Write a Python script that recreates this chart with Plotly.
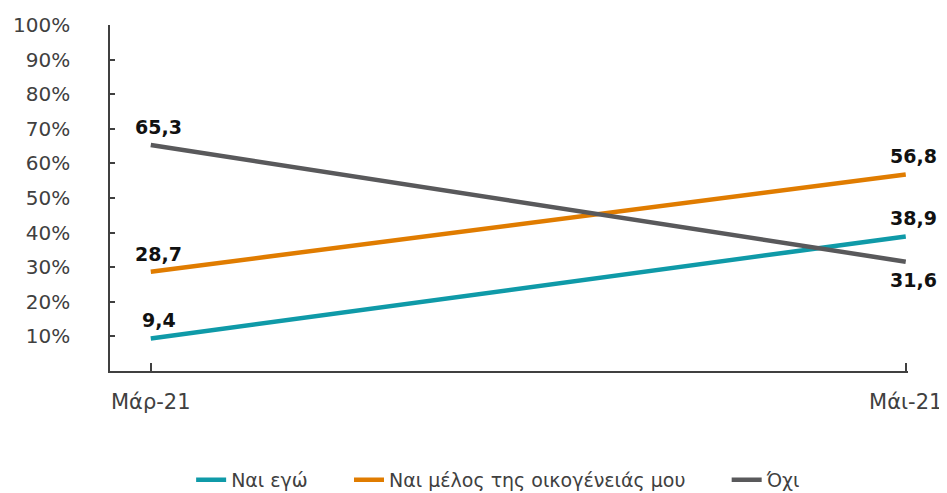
import plotly.graph_objects as go

months = ["Μάρ-21", "Μάι-21"]
series_names = ["Ναι εγώ", "Ναι μέλος της οικογένειάς μου", "Όχι"]
nai_ego = [9.4, 38.9]
nai_melos = [28.7, 56.8]
oxi = [65.3, 31.6]
y_ticks = list(range(10, 101, 10))
colors = ["#0f9aa8", "#e07c00", "#59595b"]
label_below = [[False, False], [False, False], [False, True]]

font_family = "'DejaVu Sans', 'Noto Sans', sans-serif"
x_idx = list(range(len(months)))
pad = "\u00a0" * 6  # a bit of air between legend entries

fig = go.Figure()
for i, (name, vals, col) in enumerate(zip(series_names, [nai_ego, nai_melos, oxi], colors)):
    fig.add_trace(go.Scatter(
        x=x_idx, y=vals, name=name + (pad if i < len(series_names) - 1 else ""),
        mode="lines", line=dict(color=col, width=4.5),
        hoverinfo="skip",
    ))

# value labels, nudged a little right of the point like the original
for vals, below in zip([nai_ego, nai_melos, oxi], label_below):
    for xi, v, b in zip(x_idx, vals, below):
        fig.add_annotation(
            x=xi, y=v, text=f"<b>{v:.1f}</b>".replace(".", ","),
            showarrow=False, xshift=8, yshift=-18 if b else 18,
            font=dict(family=font_family, size=19, color="#111111"),
        )

fig.update_layout(
    width=939, height=485,
    margin=dict(l=102, r=39, t=17, b=122),
    paper_bgcolor="white", plot_bgcolor="white",
    font=dict(family=font_family, size=19, color="#404040"),
    showlegend=True,
    legend=dict(orientation="h", x=0.487, xanchor="center",
                yref="container", y=0.027, yanchor="middle",
                font=dict(size=19, color="#404040")),
)
fig.update_xaxes(
    range=[-0.054, 1.003], tickvals=x_idx, ticktext=months,
    showline=True, linecolor="#404040", linewidth=1.5,
    ticks="inside", ticklen=8, tickcolor="#404040", tickwidth=1.5,
    showgrid=False, zeroline=False, ticklabelstandoff=11,
    tickfont=dict(size=21), automargin=False,
)
fig.update_yaxes(
    range=[0, 100], tickvals=y_ticks, ticktext=[f"{t}%" for t in y_ticks],
    showline=True, linecolor="#404040", linewidth=1.5,
    ticks="inside", ticklen=5, tickcolor="#404040", tickwidth=1.5,
    showgrid=False, zeroline=False, ticklabelstandoff=34,
    tickfont=dict(size=20), automargin=False,
)

fig.write_html("out.html")
